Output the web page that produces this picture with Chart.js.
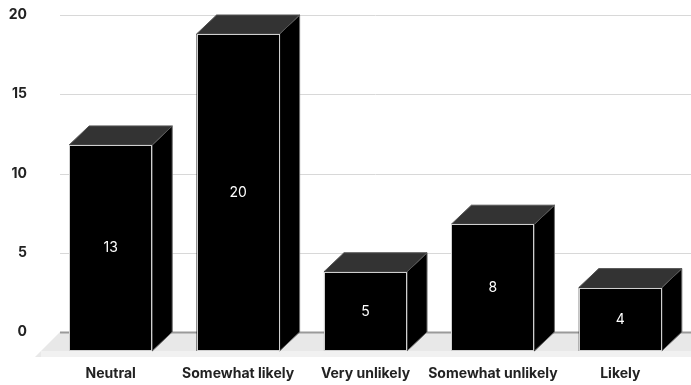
<!DOCTYPE html>
<html>
<head>
<meta charset="utf-8">
<script src="https://cdn.jsdelivr.net/npm/chart.js@4/dist/chart.umd.min.js"></script>
<style>
  html, body { margin: 0; padding: 0; background: #ffffff; }
  #wrap { width: 691px; height: 385px; }
</style>
</head>
<body>
<div id="wrap"><canvas id="chart" width="691" height="385"></canvas></div>
<script>
// Survey answers and how many respondents gave each one
const categories = ['Neutral', 'Somewhat likely', 'Very unlikely', 'Somewhat unlikely', 'Likely'];
const responses = [13, 20, 5, 8, 4];
const yTickValues = [0, 5, 10, 15, 20];

// Depth of the extruded boxes (back plane sits up and to the right)
const DEPTH_X = 20;
const DEPTH_Y = 19;
const FLOOR_DEPTH = 25;
const GRID_LEFT = 60;
const FONT = 'Inter, Roboto, "Liberation Sans", sans-serif';

const boxes3d = {
  id: 'boxes3d',
  beforeDatasetsDraw(chart) {
    const { ctx, scales: { y } } = chart;
    const W = chart.width;
    const y0 = y.getPixelForValue(0);
    ctx.save();
    // floor
    ctx.fillStyle = '#e8e8e8';
    ctx.beginPath();
    ctx.moveTo(GRID_LEFT, y0);
    ctx.lineTo(W, y0);
    ctx.lineTo(W, y0 + FLOOR_DEPTH);
    ctx.lineTo(GRID_LEFT - FLOOR_DEPTH, y0 + FLOOR_DEPTH);
    ctx.closePath();
    ctx.fill();
    ctx.fillStyle = '#f1f1f1';
    ctx.fillRect(GRID_LEFT - FLOOR_DEPTH + 6, y0 + DEPTH_Y, W, FLOOR_DEPTH - DEPTH_Y);
    // horizontal grid on the back wall
    yTickValues.forEach(v => {
      const py = Math.round(y.getPixelForValue(v)) + 0.5;
      ctx.strokeStyle = v === 0 ? '#9a9a9a' : '#d8d8d8';
      ctx.lineWidth = v === 0 ? 2 : 1;
      ctx.beginPath();
      ctx.moveTo(GRID_LEFT, py);
      ctx.lineTo(W, py);
      ctx.stroke();
    });
    ctx.restore();
  },
  afterDatasetsDraw(chart) {
    const { ctx } = chart;
    const meta = chart.getDatasetMeta(0);
    const values = chart.data.datasets[0].data;
    ctx.save();
    meta.data.forEach((bar, i) => {
      const { x, y, base, width } = bar.getProps(['x', 'y', 'base', 'width'], true);
      const left = x - width / 2;
      const right = x + width / 2;
      const top = y + DEPTH_Y;
      const bottom = base + DEPTH_Y;

      // side face
      ctx.fillStyle = '#000000';
      ctx.strokeStyle = '#6e6e6e';
      ctx.lineWidth = 1;
      ctx.beginPath();
      ctx.moveTo(right, top);
      ctx.lineTo(right + DEPTH_X, top - DEPTH_Y);
      ctx.lineTo(right + DEPTH_X, bottom - DEPTH_Y);
      ctx.lineTo(right, bottom);
      ctx.closePath();
      ctx.fill();
      ctx.stroke();

      // top face
      ctx.fillStyle = '#333333';
      ctx.strokeStyle = '#555555';
      ctx.beginPath();
      ctx.moveTo(left, top);
      ctx.lineTo(right, top);
      ctx.lineTo(right + DEPTH_X, top - DEPTH_Y);
      ctx.lineTo(left + DEPTH_X, top - DEPTH_Y);
      ctx.closePath();
      ctx.fill();
      ctx.stroke();

      // front face
      ctx.fillStyle = '#000000';
      ctx.fillRect(left, top, width, bottom - top);
      ctx.strokeStyle = '#cfcfcf';
      ctx.lineWidth = 1;
      ctx.strokeRect(Math.round(left) + 0.5, Math.round(top) + 0.5, Math.round(width) - 1, Math.round(bottom - top) - 1);

      // value
      ctx.fillStyle = '#ffffff';
      ctx.font = '14px ' + FONT;
      ctx.textAlign = 'center';
      ctx.textBaseline = 'middle';
      ctx.fillText(String(values[i]), x, (top + bottom) / 2);
    });
    ctx.restore();
  }
};

new Chart(document.getElementById('chart'), {
  type: 'bar',
  data: {
    labels: categories,
    datasets: [{
      data: responses,
      backgroundColor: 'rgba(0,0,0,0)',
      borderWidth: 0,
      categoryPercentage: 1,
      barPercentage: 0.652
    }]
  },
  options: {
    responsive: false,
    animation: false,
    events: [],
    layout: { padding: { left: 0, right: 7, top: 15, bottom: 0 } },
    plugins: { legend: { display: false }, tooltip: { enabled: false } },
    scales: {
      x: {
        grid: { display: false, drawTicks: false },
        border: { display: false },
        ticks: {
          padding: 33,
          autoSkip: false,
          maxRotation: 0,
          minRotation: 0,
          color: '#222222',
          font: { family: FONT, size: 14, weight: 'bold' }
        },
        afterFit(scale) {
          scale.height = 53;
          scale.paddingLeft = 0;
          scale.paddingRight = 0;
        }
      },
      y: {
        min: 0,
        max: 20,
        grid: { display: false, drawTicks: false },
        border: { display: false },
        afterBuildTicks(scale) { scale.ticks = yTickValues.map(v => ({ value: v })); },
        ticks: {
          padding: 20,
          color: '#222222',
          font: { family: FONT, size: 14, weight: 'bold' }
        },
        afterFit(scale) {
          scale.width = 47;
          scale.paddingTop = 0;
          scale.paddingBottom = 0;
        }
      }
    }
  },
  plugins: [boxes3d]
});
</script>
</body>
</html>
